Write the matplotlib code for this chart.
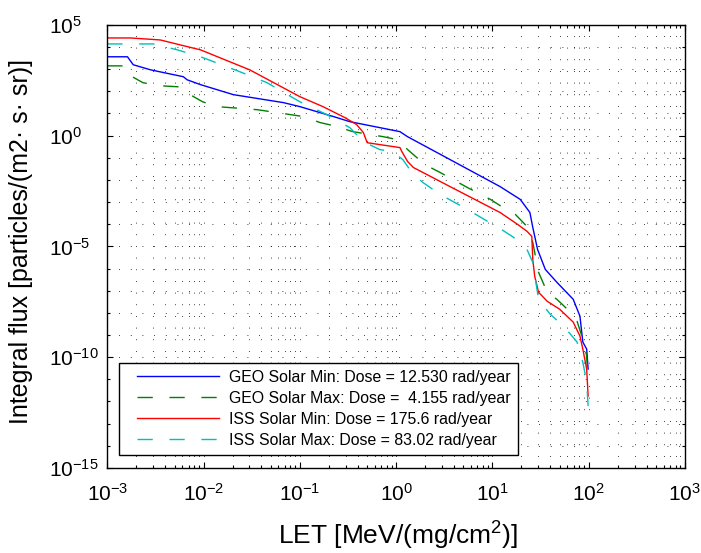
import numpy as np
import matplotlib
matplotlib.use("Agg")
import matplotlib.pyplot as plt
from matplotlib.lines import Line2D
from matplotlib.legend_handler import HandlerLine2D

# curve data, stored as log10 values
geo_min_logx = [-3.0, -2.79, -2.73, -2.55, -2.21, -2.17, -2.03, -1.69, -1.17, -1.0, -0.65, -0.48,
                0.04, 0.12, 0.56, 1.08, 1.29, 1.39, 1.42, 1.47, 1.55, 1.67, 1.84, 1.91, 1.94, 1.98, 1.995]
geo_min_logy = [3.56, 3.56, 3.20, 2.97, 2.66, 2.52, 2.30, 1.85, 1.49, 1.31, 0.86, 0.63,
                0.18, -0.05, -1.08, -2.30, -2.88, -3.47, -4.14, -5.14, -6.04, -6.62, -7.39, -8.15, -9.32, -9.64, -10.54]

geo_max_logx = [-3.0, -2.81, -2.74, -2.63, -2.45, -2.24, -2.14, -2.01, -1.86, -1.44, -1.10, -0.96, -0.79, -0.65,
                -0.45, -0.13, 0.01, 0.12, 0.30, 0.46, 0.74, 0.98, 1.11, 1.24, 1.36, 1.42, 1.48, 1.57, 1.67,
                1.78, 1.88, 1.94, 1.98, 1.995]
geo_max_logy = [3.15, 3.15, 2.66, 2.39, 2.25, 2.20, 1.85, 1.53, 1.31, 1.17, 0.95, 0.86, 0.59, 0.45,
                0.18, -0.05, -0.18, -0.63, -1.31, -1.67, -2.34, -2.88, -3.24, -3.56, -4.10, -4.82, -6.17, -7.07, -7.39,
                -7.84, -8.38, -9.19, -9.95, -11.13]

iss_min_logx = [-3.0, -2.76, -2.45, -2.03, -1.52, -1.0, -0.76, -0.53, -0.41, -0.34, -0.30, 0.04, 0.06, 0.12,
                0.18, 0.56, 1.08, 1.26, 1.36, 1.41, 1.42, 1.44, 1.48, 1.57, 1.70, 1.84, 1.91, 1.94, 1.98, 1.995]
iss_min_logy = [4.41, 4.41, 4.32, 3.87, 2.97, 1.76, 1.31, 0.81, 0.50, 0.14, -0.32, -0.54, -0.72, -1.17,
                -1.44, -2.30, -3.47, -4.00, -4.32, -4.55, -5.59, -6.35, -7.07, -7.48, -7.84, -8.42, -9.05, -9.64, -10.54, -11.76]

iss_max_logx = [-3.0, -2.52, -2.27, -2.03, -1.62, -1.34, -1.0, -0.72, -0.48, -0.34, -0.17, -0.04, 0.07, 0.18,
                0.28, 0.46, 0.74, 0.95, 1.11, 1.22, 1.36, 1.42, 1.48, 1.60, 1.74, 1.88, 1.94, 1.98, 1.995]
iss_max_logy = [4.14, 4.14, 3.87, 3.56, 2.88, 2.39, 1.53, 0.95, 0.36, -0.27, -0.63, -0.72, -1.08, -1.76,
                -2.12, -2.66, -3.33, -3.87, -4.28, -4.59, -5.14, -5.72, -7.39, -8.06, -8.60, -9.32, -10.23, -11.13, -12.21]

labels = ["GEO Solar Min: Dose = 12.530 rad/year",
          "GEO Solar Max: Dose =  4.155 rad/year",
          "ISS Solar Min: Dose = 175.6 rad/year",
          "ISS Solar Max: Dose = 83.02 rad/year"]

plt.rcParams['font.family'] = ['Liberation Sans', 'DejaVu Sans']
plt.rcParams['mathtext.fontset'] = 'custom'
plt.rcParams['mathtext.rm'] = 'Liberation Sans'
plt.rcParams['mathtext.it'] = 'Liberation Sans:italic'

fig = plt.figure(figsize=(7.01, 5.53), dpi=100)
ax = fig.add_axes([0.153, 0.154, 0.824, 0.801])

dash = (0, (11, 12))
ax.plot(10**np.array(geo_min_logx), 10**np.array(geo_min_logy), color='#0000ff', lw=1.0, label=labels[0])
ax.plot(10**np.array(geo_max_logx), 10**np.array(geo_max_logy), color='#008000', lw=1.0, ls=dash, label=labels[1])
ax.plot(10**np.array(iss_min_logx), 10**np.array(iss_min_logy), color='#ff0000', lw=1.0, label=labels[2])
ax.plot(10**np.array(iss_max_logx), 10**np.array(iss_max_logy), color='#00bfbf', lw=1.0, ls=dash, label=labels[3])

ax.set_xscale('log')
ax.set_yscale('log')
ax.set_xlim(1e-3, 1e3)
ax.set_ylim(1e-15, 1e5)

ax.set_xticks([10.0**k for k in range(-3, 4)])
ax.set_yticks([10.0**k for k in range(-15, 6, 5)])
ax.yaxis.set_minor_locator(matplotlib.ticker.FixedLocator([10.0**k for k in range(-15, 6)]))
ax.yaxis.set_minor_formatter(matplotlib.ticker.NullFormatter())

ax.tick_params(which='both', direction='in', top=True, right=True, labelsize=15, width=0.8)
ax.tick_params(which='major', length=4)
ax.tick_params(which='minor', length=2.3)
ax.tick_params(axis='x', which='major', pad=10.5)
ax.tick_params(axis='y', which='major', pad=41.8)
for lab in ax.get_yticklabels():
    lab.set_horizontalalignment('left')
for s in ax.spines.values():
    s.set_linewidth(1.0)

# matlab style dotted grid
grid_ls = (0, (1, 13))
ax.grid(True, which='both', color='black', lw=0.6, ls=grid_ls)

ax.set_xlabel('LET [MeV/(mg/cm$^2$)]', fontsize=19)
ax.set_ylabel('Integral flux [particles/(m2\u00b7 s\u00b7 sr)]', fontsize=18)
ax.xaxis.set_label_coords(0.5026, -0.118)
ax.yaxis.set_label_coords(-0.129, 0.511)

leg = ax.legend(loc='lower left', bbox_to_anchor=(0.021, 0.029), borderaxespad=0, fontsize=11.4,
                fancybox=False, framealpha=1, edgecolor='black', handlelength=5.87, handletextpad=0.63,
                labelspacing=0.38, borderpad=0.45, handler_map={Line2D: HandlerLine2D(xpad=0.68)})
leg.get_frame().set_linewidth(1.0)

fig.savefig('out.png', dpi=100)
